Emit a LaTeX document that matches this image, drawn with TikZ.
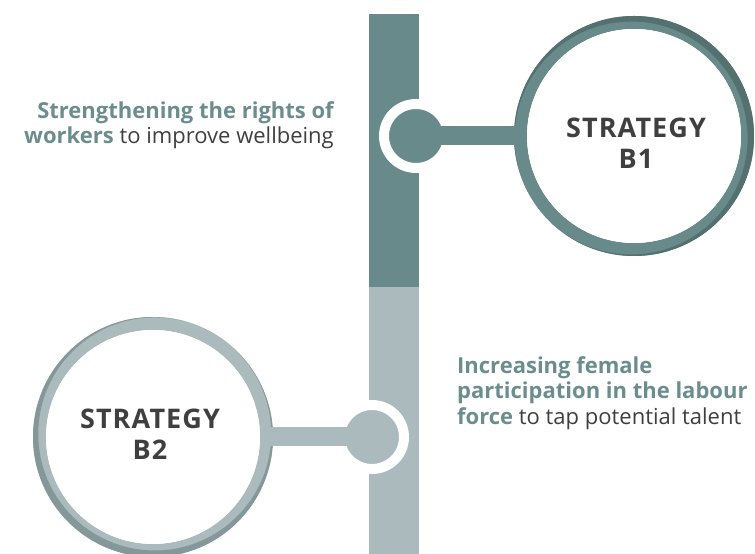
\documentclass[tikz,border=0pt]{standalone}
\usepackage{fontspec}
\setmainfont{Open Sans}
\definecolor{tealdark}{HTML}{688A8B}
\definecolor{tealshade}{HTML}{54706F}
\definecolor{greylight}{HTML}{ABBABD}
\definecolor{greyshade}{HTML}{84989A}
\definecolor{txtteal}{HTML}{6B8D8E}
\definecolor{txtgrey}{HTML}{3F3F3F}
\tikzset{
	dot/.style={circle, minimum size=64pt, draw=white, line width=10pt, inner sep=0pt},
	link/.style={line width=19pt},
	stratnode/.style={circle, fill=white, minimum size=214pt, inner sep=0pt},
	strattext/.style={inner sep=0pt, align=center, text=txtgrey,
		font=\fontsize{27}{31}\selectfont\bfseries\addfontfeature{LetterSpace=4}},
	sidetext/.style={inner sep=0pt, font=\fontsize{22}{25.5}\selectfont, text=txtgrey}
}
\begin{document}
\begin{tikzpicture}[x=1pt,y=1pt]
	\useasboundingbox (0,0) rectangle (755,554);
	% vertical bar
	\fill[tealdark] (369,267) rectangle (419,540);
	\fill[greylight] (369,0) rectangle (419,267);
	% ring B1
	\fill[tealdark, even odd rule] (634,418) circle (120) (634,418) circle (107);
	\fill[tealshade, even odd rule] (634,418) circle (120) (631.13,415.99) circle (116.5);
	% ring B2
	\fill[greylight, even odd rule] (153,117) circle (120) (153,117) circle (107);
	\fill[greyshade, even odd rule] (153,117) circle (120) (154.75,120.03) circle (116.5);
	% circles
	\node[stratnode] (b1) at (634,418) {};
	\node[stratnode] (b2) at (153,117) {};
	\node[strattext, anchor=north] (s1) at ([xshift=2pt,yshift=18pt]b1.center) {STRATEGY\\B1};
	\node[strattext, anchor=north] (s2) at ([xshift=-3pt,yshift=28pt]b2.center) {STRATEGY\\B2};
	\node[dot, fill=tealdark] (d1) at (416,418) {};
	\node[dot, fill=greylight] (d2) at (372,117) {};
	\draw[link, tealdark] (d1.center) -- (b1);
	\draw[link, greylight] (d2.center) -- (b2);
	% texts
	\node[sidetext, anchor=north east, align=right] (t1) at (334,453)
		{\textcolor{txtteal}{\bfseries Strengthening the rights of}\\\textcolor{txtteal}{\bfseries workers} to improve wellbeing};
	\node[sidetext, anchor=north west, align=left] (t2) at (457,198)
		{\textcolor{txtteal}{\bfseries Increasing female}\\\textcolor{txtteal}{\bfseries participation in the labour}\\\textcolor{txtteal}{\bfseries force} to tap potential talent};
\end{tikzpicture}
\end{document}
